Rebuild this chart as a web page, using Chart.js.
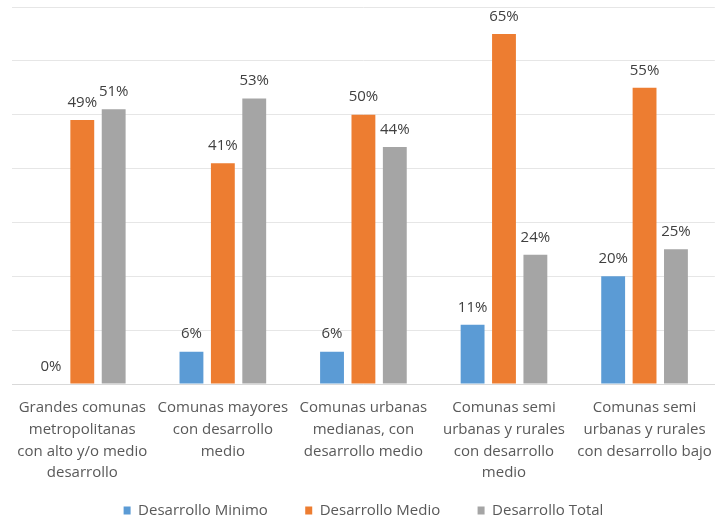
<!DOCTYPE html>
<html>
<head>
<meta charset="utf-8">
<script src="https://cdn.jsdelivr.net/npm/chart.js@4"></script>
<style>
  html, body { margin: 0; padding: 0; background: #fff; }
  #wrap { width: 717px; height: 521px; }
</style>
</head>
<body>
<div id="wrap"><canvas id="barChart"></canvas></div>
<script>
const categories = [
  ["Grandes comunas", "metropolitanas", "con alto y/o medio", "desarrollo"],
  ["Comunas mayores", "con desarrollo", "medio"],
  ["Comunas urbanas", "medianas, con", "desarrollo medio"],
  ["Comunas semi", "urbanas y rurales", "con desarrollo", "medio"],
  ["Comunas semi", "urbanas y rurales", "con desarrollo bajo"]
];
const seriesNames = ["Desarrollo Minimo", "Desarrollo Medio", "Desarrollo Total"];
const minimo = [0, 6, 6, 11, 20];
const medio = [49, 41, 50, 65, 55];
const total = [51, 53, 44, 24, 25];
const colors = ["#5B9BD5", "#ED7D31", "#A5A5A5"];

// draws "NN%" over each bar, zeros included
const barLabels = {
  id: 'barLabels',
  afterDatasetsDraw(chart) {
    const ctx = chart.ctx;
    ctx.save();
    ctx.font = '15px "Open Sans"';
    ctx.fillStyle = '#404040';
    ctx.textAlign = 'center';
    ctx.textBaseline = 'bottom';
    chart.data.datasets.forEach((ds, i) => {
      chart.getDatasetMeta(i).data.forEach((bar, j) => {
        ctx.fillText(ds.data[j] + '%', bar.x, bar.y - 10);
      });
    });
    ctx.restore();
  }
};

new Chart(document.getElementById('barChart'), {
  type: 'bar',
  data: {
    labels: categories,
    datasets: [
      { label: seriesNames[0], data: minimo, backgroundColor: colors[0] },
      { label: seriesNames[1], data: medio, backgroundColor: colors[1] },
      { label: seriesNames[2], data: total, backgroundColor: colors[2] }
    ]
  },
  options: {
    responsive: true,
    maintainAspectRatio: false,
    animation: false,
    layout: { padding: { left: 12, right: 2, top: 7, bottom: -7 } },
    datasets: { bar: { categoryPercentage: 0.67, barPercentage: 0.76 } },
    scales: {
      x: {
        grid: { display: false },
        border: { color: '#d9d9d9' },
        ticks: {
          color: '#595959',
          font: { family: 'Open Sans', size: 15, lineHeight: 1.45 },
          maxRotation: 0,
          autoSkip: false,
          padding: 5
        }
      },
      y: {
        min: 0,
        max: 70,
        ticks: { display: false, stepSize: 10 },
        grid: { color: '#e6e6e6', drawTicks: false },
        border: { display: false }
      }
    },
    plugins: {
      legend: {
        position: 'bottom',
        labels: {
          boxWidth: 7,
          boxHeight: 8,
          color: '#595959',
          font: { family: 'Open Sans', size: 15 },
          padding: 14,
          // wider gaps between items without a tall legend box
          generateLabels(chart) {
            const items = Chart.defaults.plugins.legend.labels.generateLabels(chart);
            items.forEach((it, i) => {
              if (i < items.length - 1) it.text = it.text + '      ';
            });
            return items;
          }
        }
      },
      tooltip: { enabled: false }
    }
  },
  plugins: [barLabels]
});
</script>
</body>
</html>
